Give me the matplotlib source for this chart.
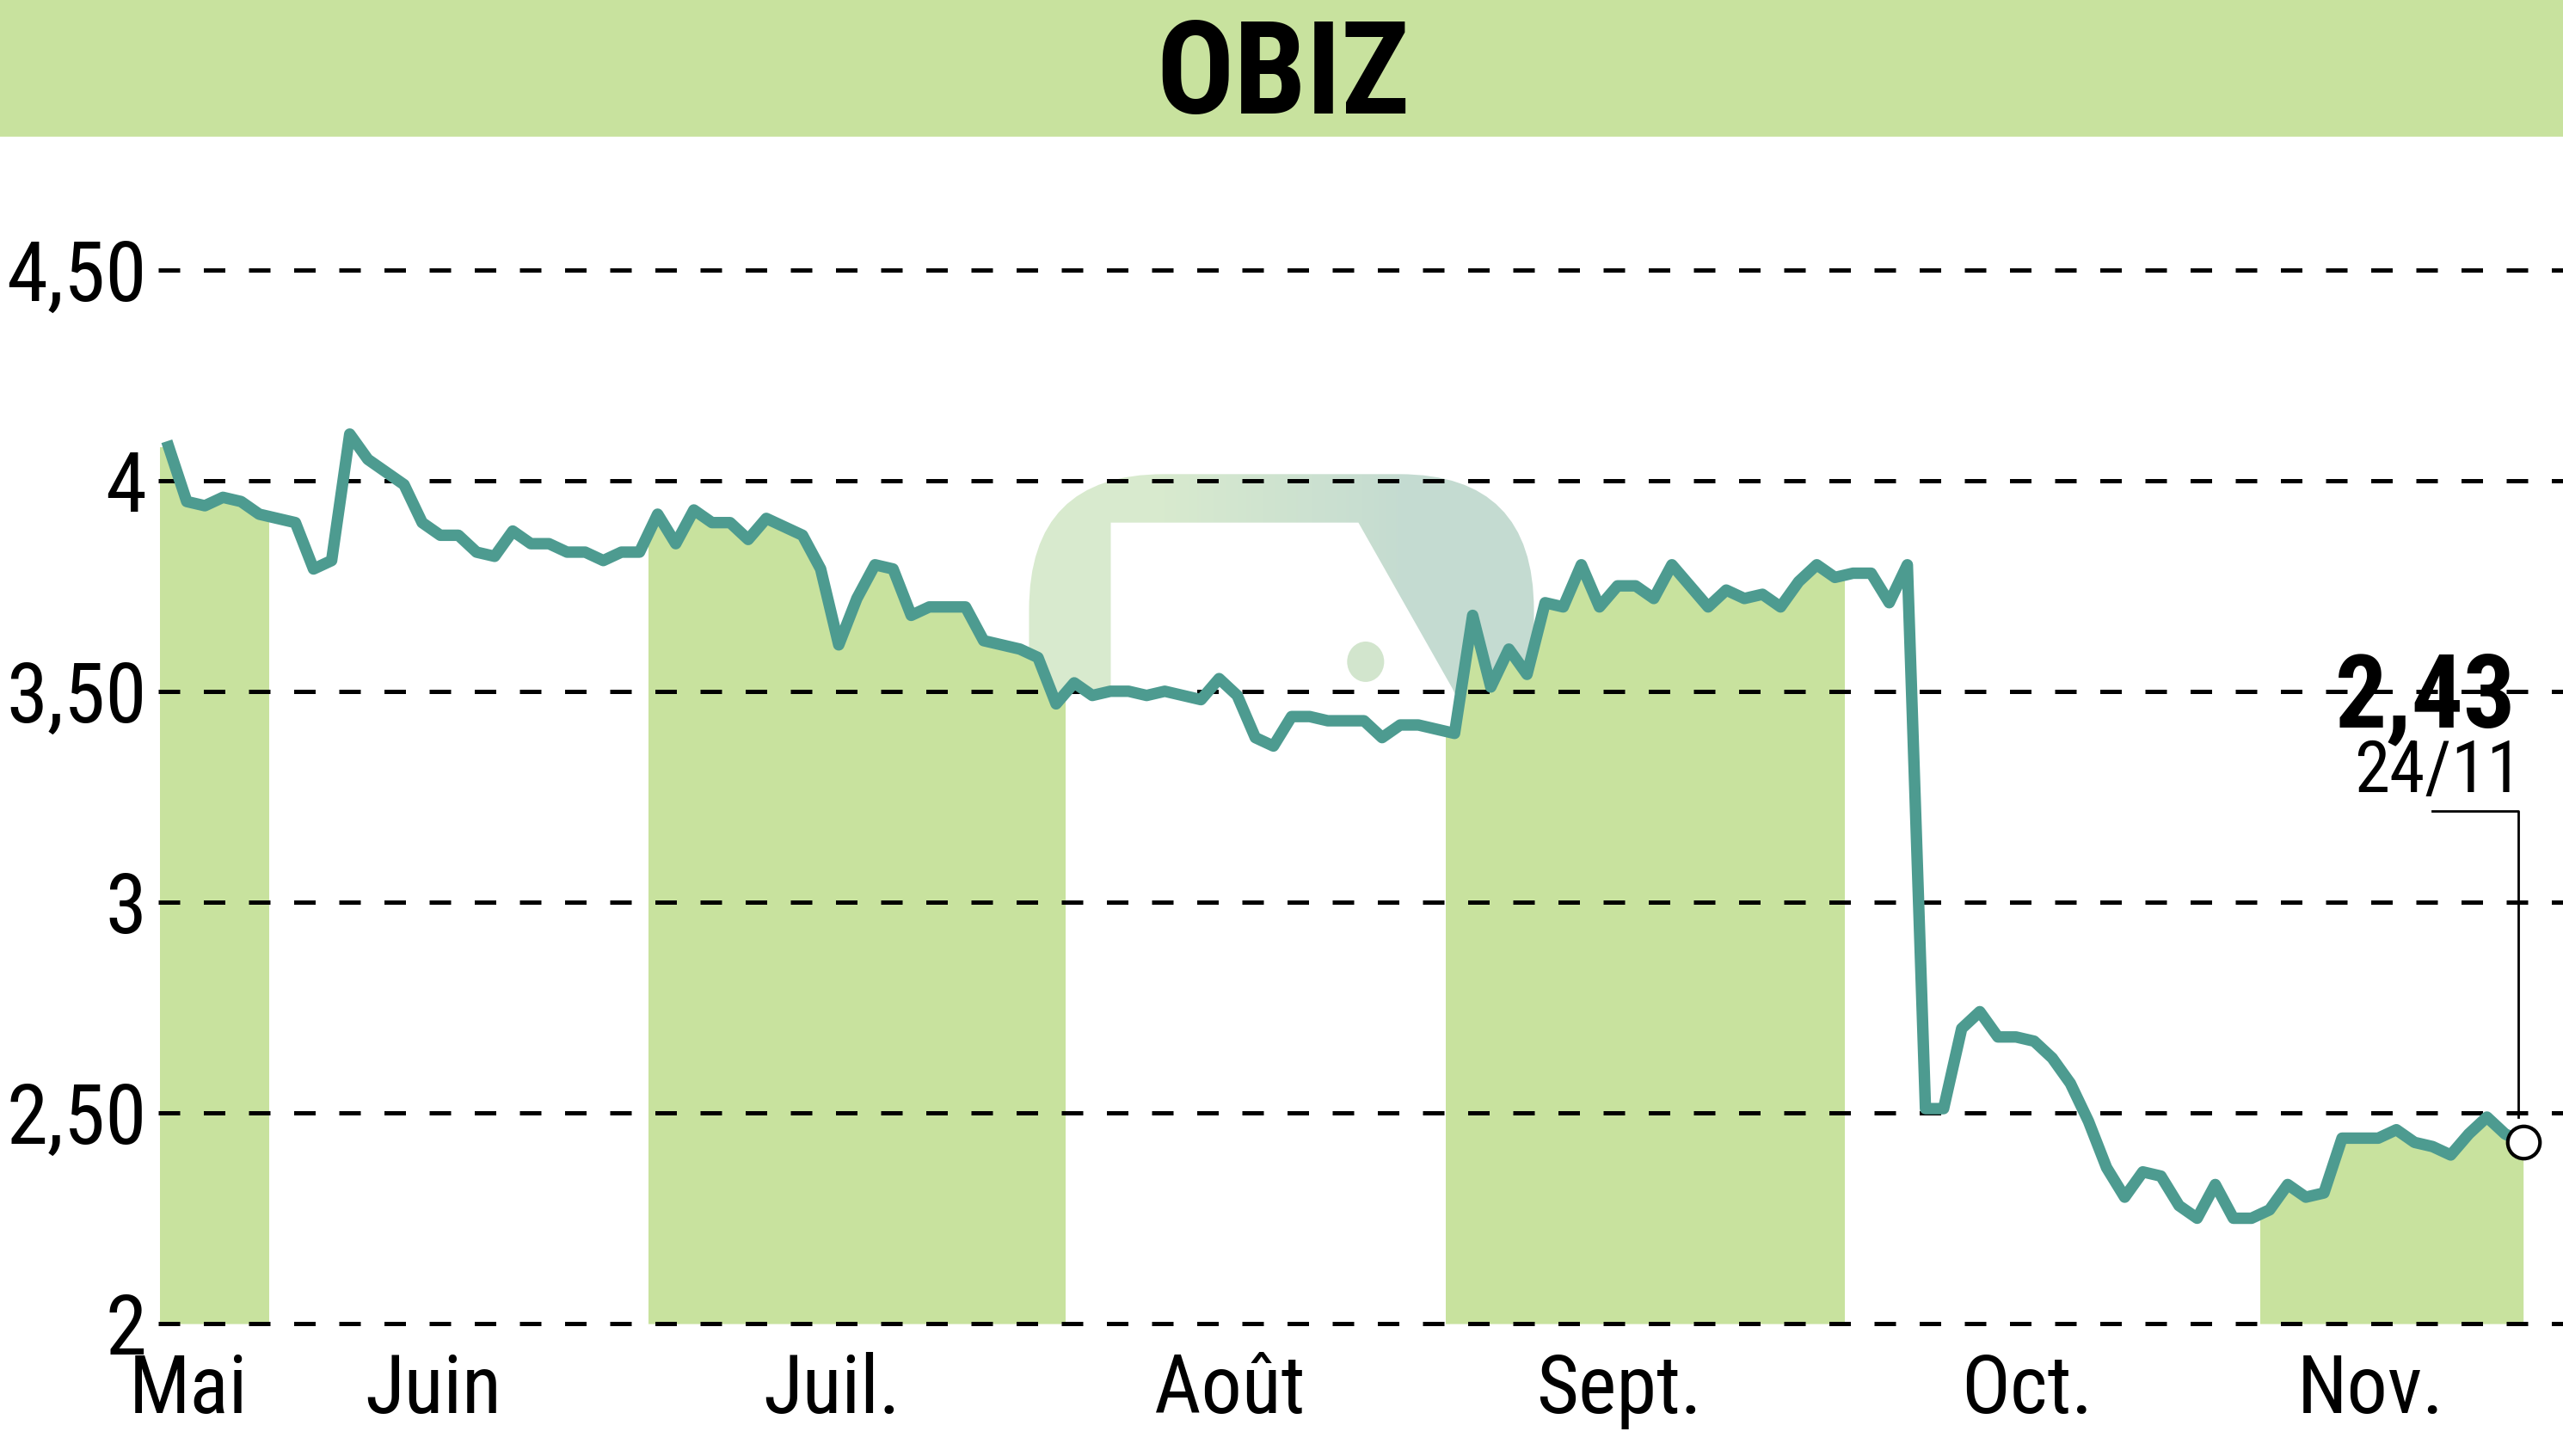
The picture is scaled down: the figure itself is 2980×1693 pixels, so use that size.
import matplotlib

matplotlib.use("Agg")
import matplotlib.pyplot as plt
import numpy as np
from matplotlib.patches import Ellipse, FancyBboxPatch, Polygon, Rectangle

plt.rcParams["font.family"] = ["Liberation Sans Narrow", "DejaVu Sans Condensed",
                               "Roboto Condensed", "Roboto", "DejaVu Sans"]

# daily closing prices, grouped by month
may = [4.08, 3.95, 3.94, 3.96, 3.95, 3.92]
june = [3.91, 3.90, 3.79, 3.81, 4.11, 4.05, 4.02, 3.99, 3.90, 3.87, 3.87,
        3.83, 3.82, 3.88, 3.85, 3.85, 3.83, 3.83, 3.81, 3.83, 3.83]
july = [3.92, 3.85, 3.93, 3.90, 3.90, 3.86, 3.91, 3.89, 3.87, 3.79, 3.61, 3.72,
        3.80, 3.79, 3.68, 3.70, 3.70, 3.70, 3.62, 3.61, 3.60, 3.58, 3.47]
august = [3.52, 3.49, 3.50, 3.50, 3.49, 3.50, 3.49, 3.48, 3.53, 3.49, 3.39,
          3.37, 3.44, 3.44, 3.43, 3.43, 3.43, 3.39, 3.42, 3.42, 3.41]
september = [3.40, 3.68, 3.51, 3.60, 3.54, 3.71, 3.70, 3.80, 3.70, 3.75, 3.75,
             3.72, 3.80, 3.75, 3.70, 3.74, 3.72, 3.73, 3.70, 3.76, 3.80, 3.77]
october = [3.78, 3.78, 3.71, 3.80, 2.51, 2.51, 2.70, 2.74, 2.68, 2.68, 2.67, 2.63,
           2.57, 2.48, 2.37, 2.30, 2.36, 2.35, 2.28, 2.25, 2.33, 2.25, 2.25]
november = [2.27, 2.33, 2.30, 2.31, 2.44, 2.44, 2.44, 2.46, 2.43, 2.42, 2.40,
            2.45, 2.49, 2.45, 2.43]

month_labels = ["Mai", "Juin", "Juil.", "Août", "Sept.", "Oct.", "Nov."]
y_ticks = [2, 2.5, 3, 3.5, 4, 4.5]
y_tick_labels = ["2", "2,50", "3", "3,50", "4", "4,50"]
title = "OBIZ"
last_date = "24/11"

LINE = "#4d9b90"
FILL = "#c8e29e"

months = [may, june, july, august, september, october, november]
prices = np.concatenate(months)
x = np.arange(len(prices))
bounds = np.cumsum([0] + [len(m) for m in months])

fig = plt.figure(figsize=(14.9, 8.465), dpi=200)
fig.patches.append(Rectangle((0, 0.9073), 1, 0.0927, transform=fig.transFigure,
                             color=FILL, zorder=0))
fig.text(0.5006, 0.946, title, ha="center", va="center", fontsize=54,
         fontweight="bold")

ax = fig.add_axes([0.0619, 0.0909, 0.9381, 0.7239])

# faded logo in the background (axes fraction coords)
logo = FancyBboxPatch((0.362, 0.30), 0.21, 0.506,
                      boxstyle="round,pad=0,rounding_size=0.056",
                      mutation_aspect=2.3, transform=ax.transAxes,
                      fc="none", ec="none", zorder=0.4)
ax.add_patch(logo)
grad = np.array([[[0.85, 0.92, 0.81], [0.77, 0.86, 0.82]]])
img = ax.imshow(grad, extent=[0.362, 0.572, 0.30, 0.806], transform=ax.transAxes,
                aspect="auto", interpolation="bilinear", zorder=0.4)
img.set_clip_path(logo)
ax.add_patch(Polygon([(0.396, 0.760), (0.499, 0.760), (0.538, 0.603),
                      (0.56, 0.50), (0.396, 0.50)], closed=True,
                     transform=ax.transAxes, fc="white", ec="none", zorder=0.5))
ax.add_patch(Ellipse((0.502, 0.628), 0.0154, 0.0383, transform=ax.transAxes,
                     fc="#d2e5cd", ec="none", zorder=0.6))

x_left, x_right = -0.55, x[-1] + 2.2
ax.set_xlim(x_left, x_right)
ax.set_ylim(2, 4.5)

# area under the curve: white everywhere, green one month out of two
fx = np.r_[x_left, x]
fy = np.r_[prices[0], prices]
ax.fill_between(fx, 2, fy, color="white", lw=0, zorder=0.8)
for i in range(0, len(months), 2):
    lo = max(bounds[i] - 0.5, x_left)
    hi = min(bounds[i + 1] - 0.5, x[-1])
    poly = ax.fill_between(fx, 2, fy, color=FILL, lw=0, zorder=1)
    clip = Rectangle((lo, 2), hi - lo, 3, transform=ax.transData)
    poly.set_clip_path(clip)

for t in y_ticks:
    ax.axhline(t, color="black", lw=1.8, dashes=(5, 5.5), zorder=2, clip_on=False)

ax.plot(x, prices, color=LINE, lw=4.8, zorder=3)

# last value marker + label
lx, ly = x[-1], prices[-1]
ax.plot([lx - 5.0, lx - 0.25, lx - 0.25], [ly + 0.785, ly + 0.785, ly + 0.06],
        color="black", lw=1.0, zorder=4, clip_on=False)
ax.plot(lx, ly, "o", ms=13.5, mfc="white", mec="black", mew=1.5, zorder=5,
        clip_on=False)
ax.text(lx - 0.05, ly + 0.83, last_date, ha="right", va="baseline", fontsize=30)
ax.text(lx - 0.4, ly + 0.985, f"{ly:.2f}".replace(".", ","), ha="right",
        va="baseline", fontsize=43, fontweight="bold")

centers = [(bounds[i] + bounds[i + 1] - 1) / 2 - 1.4 for i in range(len(months))]
ax.set_xticks(centers)
ax.set_xticklabels(month_labels)
ax.set_yticks(y_ticks)
ax.set_yticklabels(y_tick_labels)
ax.tick_params(axis="both", length=0)
ax.tick_params(axis="x", pad=12, labelsize=34)
ax.tick_params(axis="y", pad=5, labelsize=35)
for s in ax.spines.values():
    s.set_visible(False)

fig.savefig("out.png", dpi=200)
